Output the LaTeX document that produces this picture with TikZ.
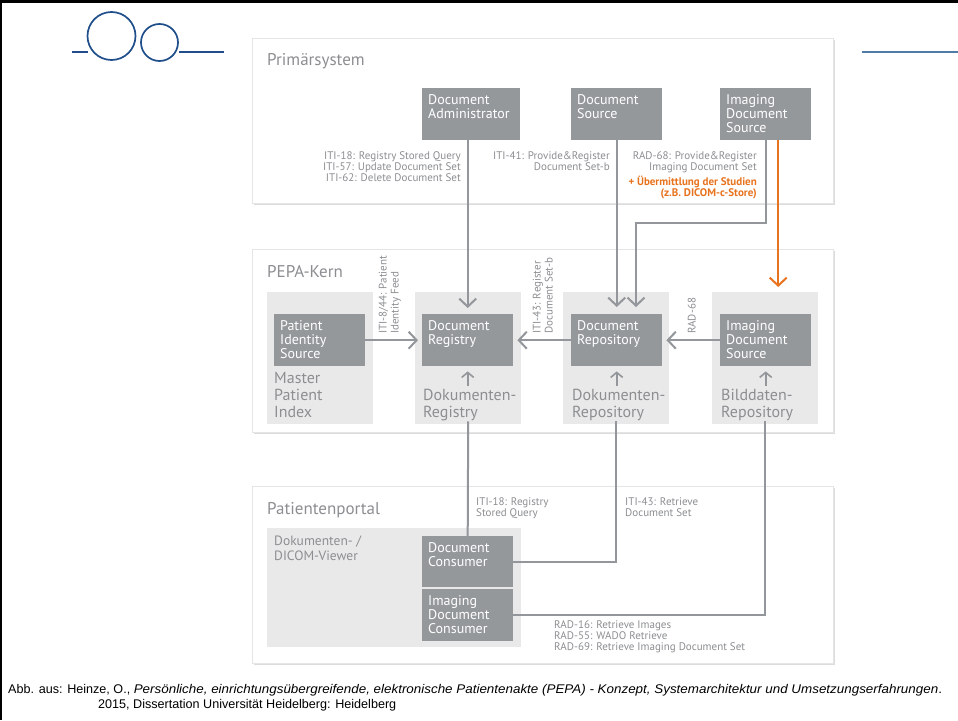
\documentclass[tikz,border=0pt]{standalone}
\usepackage{fontspec}
\setmainfont{PT Sans}
\newfontfamily\capfont{Liberation Sans}
\usetikzlibrary{arrows.meta,shadows,calc}

\definecolor{boxgray}{HTML}{95989B}
\definecolor{panelgray}{HTML}{E9E9E9}
\definecolor{txtgray}{HTML}{8C8E91}
\definecolor{linegray}{HTML}{93969A}
\definecolor{pepaorange}{HTML}{E8731E}
\definecolor{logoblue}{HTML}{1F4E8A}
\definecolor{ruleblue}{HTML}{4F7BA6}

\tikzset{
  panel/.style={draw=black!10, line width=0.6pt, fill=white, anchor=north west, inner sep=0pt,
    drop shadow={shadow xshift=1.5pt, shadow yshift=-2pt, opacity=0.3, fill=black!45}},
  group/.style={fill=panelgray, anchor=north west, inner sep=0pt},
  actor/.style={fill=boxgray, anchor=north west, inner sep=0pt},
  actortext/.style={anchor=north west, inner sep=0pt, text=white, align=left,
    font=\fontsize{14}{14}\selectfont},
  paneltitle/.style={anchor=north west, inner sep=0pt, text=txtgray, font=\fontsize{17}{20}\selectfont},
  grouptext/.style={anchor=north west, inner sep=0pt, text=txtgray, align=left,
    font=\fontsize{16}{17}\selectfont},
  viewtext/.style={anchor=north west, inner sep=0pt, text=txtgray, align=left,
    font=\fontsize{13.5}{15}\selectfont},
  lbl/.style={inner sep=0pt, text=txtgray, font=\fontsize{11}{11}\selectfont},
  rlbl/.style={inner sep=0pt, text=txtgray, rotate=90, anchor=south west, align=left,
    font=\fontsize{11}{12}\selectfont},
  flow/.style={draw=linegray, line width=2pt, -{Straight Barb[length=8pt,width=17pt]}},
  upflow/.style={draw=linegray, line width=1.6pt, -{Straight Barb[length=5pt,width=12pt]}},
  link/.style={draw=linegray, line width=2pt},
  logo/.style={draw=logoblue, line width=1.7pt},
  captext/.style={anchor=base west, inner sep=0pt, font=\capfont\fontsize{12.6}{15}\selectfont},
}

\begin{document}
\begin{tikzpicture}[x=1pt,y=-1pt]
\useasboundingbox (0,0) rectangle (958,720);

% frame edges
\fill[black] (0,0) rectangle (958,2.5);
\fill[black] (0,0) rectangle (1.7,720);

% logo and header rules
\draw[logo] (72,52) -- (88,52);
\draw[logo] (111.5,36) circle[radius=24pt];
\draw[logo] (159.5,42.5) circle[radius=18.5pt];
\draw[logo] (179,52) -- (224,52);
\draw[draw=ruleblue, line width=2pt] (862,52) -- (958,52);

% the three layers
\node[panel, minimum width=581pt, minimum height=165pt] (prim) at (252,38) {};
\node[panel, minimum width=581pt, minimum height=183pt] (pepa) at (252,249) {};
\node[panel, minimum width=581pt, minimum height=177pt] (portal) at (252,486) {};

\node[paneltitle] (prim-t) at (267,53) {Primärsystem};
\node[paneltitle] (pepa-t) at (267,265) {PEPA-Kern};
\node[paneltitle] (portal-t) at (267,502) {Patientenportal};

% Primaersystem actors
\node[actor, minimum width=98pt, minimum height=52pt] (dadm) at (422,88) {};
\node[actortext] (dadm-t) at (428,94.5) {Document\\Administrator};
\node[actor, minimum width=91pt, minimum height=52pt] (dsrc) at (571,88) {};
\node[actortext] (dsrc-t) at (577,94.5) {Document\\Source};
\node[actor, minimum width=91pt, minimum height=52pt] (idsrc) at (720,88) {};
\node[actortext] (idsrc-t) at (726,94.5) {Imaging\\Document\\Source};

% PEPA-Kern groups
\node[group, minimum width=106pt, minimum height=132pt] (mpiG) at (267,292) {};
\node[group, minimum width=106pt, minimum height=132pt] (dregG) at (415,292) {};
\node[group, minimum width=106pt, minimum height=132pt] (drepG) at (563,292) {};
\node[group, minimum width=106pt, minimum height=132pt] (bildG) at (712,292) {};

\node[actor, minimum width=91pt, minimum height=52pt] (pis) at (274,314) {};
\node[actortext] (pis-t) at (280,320.5) {Patient\\Identity\\Source};
\node[actor, minimum width=91pt, minimum height=52pt] (dreg) at (422,314) {};
\node[actortext] (dreg-t) at (428,320.5) {Document\\Registry};
\node[actor, minimum width=91pt, minimum height=52pt] (drep) at (571,314) {};
\node[actortext] (drep-t) at (577,320.5) {Document\\Repository};
\node[actor, minimum width=91pt, minimum height=52pt] (bids) at (720,314) {};
\node[actortext] (bids-t) at (726,320.5) {Imaging\\Document\\Source};

\node[grouptext] (mpiG-t) at (274,372) {Master\\Patient\\Index};
\node[grouptext] (dregG-t) at (423,389) {Dokumenten-\\Registry};
\node[grouptext] (drepG-t) at (572,389) {Dokumenten-\\Repository};
\node[grouptext] (bildG-t) at (721,389) {Bilddaten-\\Repository};

\draw[upflow] ($(dreg.south)+(0,20)$) -- ($(dreg.south)+(0,5)$);
\draw[upflow] ($(drep.south)+(0,20)$) -- ($(drep.south)+(0,5)$);
\draw[upflow] ($(bids.south)+(0,20)$) -- ($(bids.south)+(0,5)$);

% Patientenportal
\node[group, minimum width=254pt, minimum height=119pt] (viewer) at (267,528) {};
\node[viewtext] (viewer-t) at (274,536) {Dokumenten- /\\DICOM-Viewer};
\node[actor, minimum width=91pt, minimum height=51pt] (dcons) at (422,536) {};
\node[actortext] (dcons-t) at (428,542.5) {Document\\Consumer};
\node[actor, minimum width=91pt, minimum height=52.5pt] (idcons) at (422,588.5) {};
\node[actortext] (idcons-t) at (428,595) {Imaging\\Document\\Consumer};

% transactions from the primary systems
\coordinate (jog) at (636,223);
\draw[flow] (dadm.south -| dreg.north) -- ($(dreg.north)+(0,-6)$);
\draw[flow] (dsrc.south) -- ($(dsrc.south |- drep.north)+(0,-7)$);
\draw[flow] (idsrc.south) |- (jog) -- ($(jog |- drep.north)+(0,-7)$);
\draw[flow, draw=pepaorange] ($(idsrc.south)+(12.5,0)$) -- ($(idsrc.south |- bildG.north)+(12.5,-5)$);

% transactions inside the core
\draw[flow] (pis.east) -- ($(dreg.west)+(-4,0)$);
\draw[flow] (drep.west) -- ($(dreg.east)+(4,0)$);
\draw[flow] (bids.west) -- ($(drep.east)+(4,0)$);

% transactions to the portal
\draw[link] ($(dregG.south)+(0,-3)$) -- (dreg.south |- dcons.north);
\draw[link] ($(drepG.south)+(0,-3)$) |- (dcons.east);
\draw[link] ($(bildG.south)+(0,-3)$) |- (idcons.east);

% transaction labels
\node[lbl, align=right, anchor=north east] (l-adm) at (461,151.5)
  {ITI-18: Registry Stored Query\\ITI-57: Update Document Set\\ITI-62: Delete Document Set};
\node[lbl, align=right, anchor=north east] (l-src) at (610,151.5)
  {ITI-41: Provide\&Register\\Document Set-b};
\node[lbl, align=right, anchor=north east] (l-ids) at (757,151.5)
  {RAD-68: Provide\&Register\\Imaging Document Set\\[2pt]
   {\color{pepaorange}\bfseries + Übermittlung der Studien}\\
   {\color{pepaorange}\bfseries (z.B. DICOM-c-Store)}};

\node[rlbl] (l-pif) at (401,334) {ITI-8/44: Patient\\Identity Feed};
\node[rlbl] (l-reg) at (553,334) {ITI-43: Register\\Document Set-b};
\node[rlbl] (l-rad) at (696,334) {RAD-68};

\node[lbl, align=left, anchor=north west] (l-query) at (476,497.5) {ITI-18: Registry\\Stored Query};
\node[lbl, align=left, anchor=north west] (l-retr) at (625,497.5) {ITI-43: Retrieve\\Document Set};
\node[lbl, align=left, anchor=north west] (l-img) at (554,620)
  {RAD-16: Retrieve Images\\RAD-55: WADO Retrieve\\RAD-69: Retrieve Imaging Document Set};

% source reference
\node[captext] (cap1) at (8,693)
  {Abb. aus: Heinze, O., \scalebox{1.064}[1]{\textit{Persönliche, einrichtungsübergreifende, elektronische Patientenakte (PEPA) - Konzept, Systemarchitektur und Umsetzungserfahrungen}.}};
\node[captext] (cap2) at (98,708)
  {2015, Dissertation Universität Heidelberg: Heidelberg};
\end{tikzpicture}
\end{document}
